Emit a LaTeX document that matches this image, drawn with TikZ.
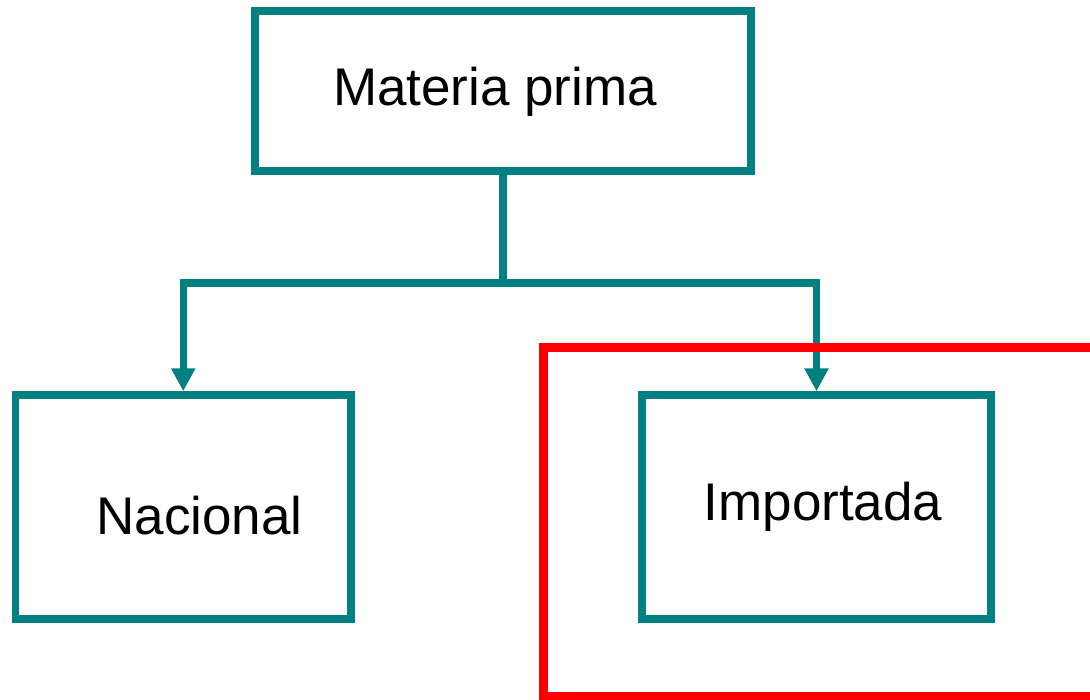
\documentclass[tikz,border=0pt]{standalone}
\usepackage{fontspec}
\setmainfont{Liberation Sans}
\usetikzlibrary{arrows.meta}
\definecolor{tealc}{RGB}{0,128,128}
\definecolor{redc}{RGB}{255,0,0}
\tikzset{
  box/.style={draw=tealc, line width=7.5pt, rectangle, inner sep=0pt},
  conn/.style={draw=tealc, line width=7.5pt},
  arr/.style={conn, -{Triangle[width=23pt,length=23pt]}},
  lbl/.style={anchor=base, inner sep=0pt, font=\fontsize{53}{60}\selectfont},
  frame/.style={draw=redc, line width=9pt}
}
\begin{document}
\begin{tikzpicture}[x=1pt,y=-1pt]
\useasboundingbox (0,0) rectangle (1090,699);
\clip (0,0) rectangle (1090,699);
\node[box, minimum width=496pt, minimum height=160pt] (top) at (503,91) {};
\node[box, minimum width=335.5pt, minimum height=224pt] (nac) at (183.25,507) {};
\node[box, minimum width=349pt, minimum height=224pt] (imp) at (816.5,507) {};
\coordinate (j) at (503,283);
\draw[conn] (top.south) -- (j);
\draw[arr] (j) -| (nac.north);
\draw[arr] (j) -| (imp.north);
\draw[frame] (543.5,347.5) rectangle (1110,696.5);
\node[lbl] (tmat) at (495,105) {Materia prima};
\node[lbl] (tnac) at (199.5,534) {Nacional};
\node[lbl] (timp) at (823,520) {Importada};
\end{tikzpicture}
\end{document}
